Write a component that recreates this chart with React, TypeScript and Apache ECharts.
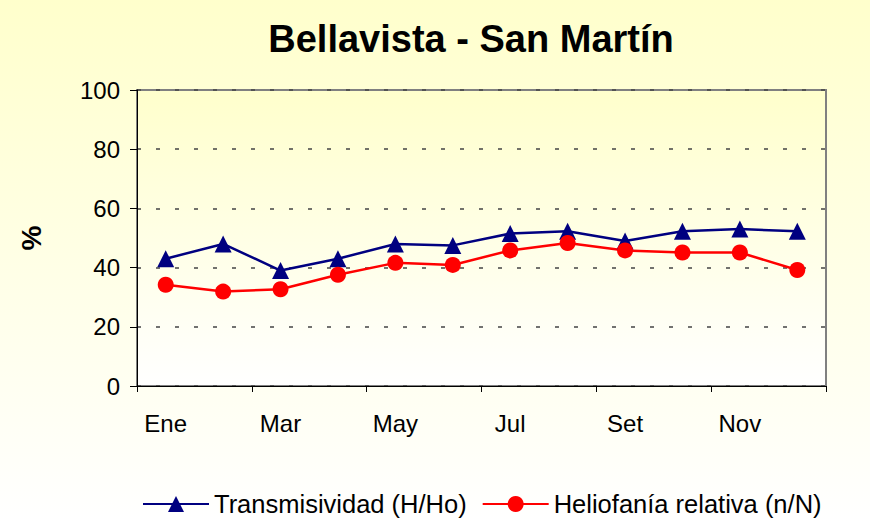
import React, { useEffect, useRef } from "react";
import * as echarts from "echarts";

const months = ["Ene", "Feb", "Mar", "Abr", "May", "Jun", "Jul", "Ago", "Set", "Oct", "Nov", "Dic"];
const transmisividad = [43, 48, 39, 43, 48, 47.5, 51.5, 52.3, 49, 52.3, 53, 52.3];
const heliofania = [34.2, 31.9, 32.7, 37.6, 41.6, 40.9, 45.8, 48.3, 45.8, 45.1, 45.1, 39.2];
const yTicks = { min: 0, max: 100, interval: 20 };

export default function App() {
  const ref = useRef<HTMLDivElement>(null);
  useEffect(() => {
    if (!ref.current) return;
    const chart = echarts.init(ref.current, undefined, { renderer: "svg" });
    const font = "'Liberation Sans', Arial, sans-serif";
    chart.setOption({
      animation: false,
      title: {
        text: "Bellavista - San Martín",
        left: 466,
        top: 15,
        textAlign: "center",
        textStyle: { fontFamily: font, fontSize: 38, fontWeight: "bold", color: "#000" },
      },
      legend: {
        bottom: 0,
        left: 137,
        itemWidth: 66,
        itemHeight: 20,
        itemGap: 15,
        textStyle: { fontFamily: font, fontSize: 25.5, color: "#000" },
        data: ["Transmisividad (H/Ho)", "Heliofanía relativa (n/N)"],
      },
      grid: {
        left: 137,
        right: 44,
        top: 90,
        bottom: 136,
        show: true,
        borderColor: "#808080",
        borderWidth: 2,
        backgroundColor: new echarts.graphic.LinearGradient(0, 0, 0, 1, [
          { offset: 0, color: "#FFFFCC" },
          { offset: 1, color: "#FFFFFF" },
        ]),
      },
      xAxis: {
        type: "category",
        data: months,
        boundaryGap: true,
        axisLine: { lineStyle: { color: "#000", width: 1 } },
        axisTick: { show: true, length: 6, lineStyle: { color: "#000" } },
        axisLabel: { interval: 1, fontFamily: font, fontSize: 24, color: "#000", margin: 25 },
      },
      yAxis: {
        type: "value",
        min: yTicks.min,
        max: yTicks.max,
        interval: yTicks.interval,
        name: "%",
        nameLocation: "middle",
        nameRotate: 90,
        nameGap: 92,
        nameTextStyle: { fontFamily: font, fontSize: 28, fontWeight: "bold", color: "#000" },
        axisLine: { show: true, lineStyle: { color: "#000", width: 1 } },
        axisTick: { show: true, length: 7, lineStyle: { color: "#000" } },
        axisLabel: { fontFamily: font, fontSize: 24, color: "#000", margin: 17 },
        splitLine: { show: true, lineStyle: { color: "#444", type: [4, 15], width: 1.5 } },
      },
      series: [
        {
          name: "Transmisividad (H/Ho)",
          type: "line",
          data: transmisividad,
          symbol: "triangle",
          symbolSize: 17,
          itemStyle: { color: "#000080" },
          lineStyle: { color: "#000080", width: 2.5 },
        },
        {
          name: "Heliofanía relativa (n/N)",
          type: "line",
          data: heliofania,
          symbol: "circle",
          symbolSize: 16,
          itemStyle: { color: "#FF0000" },
          lineStyle: { color: "#FF0000", width: 2.5 },
        },
      ],
    });
    return () => chart.dispose();
  }, []);
  return (
    <div
      ref={ref}
      style={{
        position: "fixed",
        left: 0,
        top: 0,
        width: 870,
        height: 522,
        background: "linear-gradient(to bottom, #FFFFCC 0%, #FFFFFF 100%)",
      }}
    />
  );
}
